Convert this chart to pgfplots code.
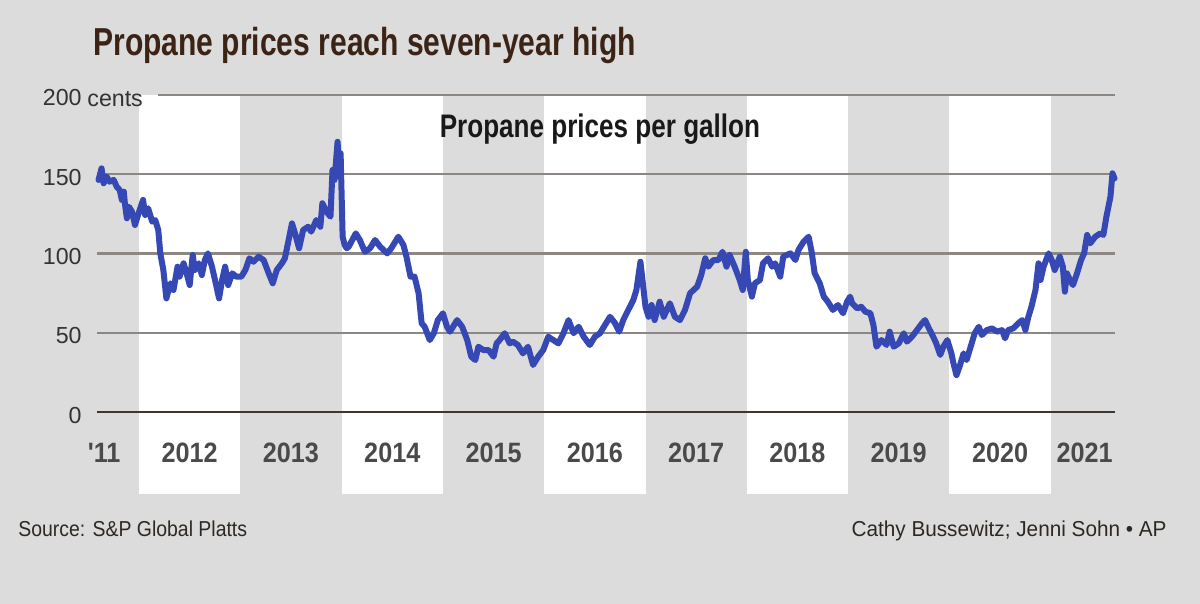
\documentclass[border=0pt]{standalone}
\usepackage{pgfplots}
\pgfplotsset{compat=1.18}
\usepackage{fontspec}
\setmainfont{Liberation Sans}
\newfontfamily\titlefont{Liberation Sans}[FakeStretch=0.77]
\newfontfamily\subfont{Liberation Sans}[FakeStretch=0.80]
\newfontfamily\yearfontfam{Liberation Sans}[FakeStretch=0.90]
\newfontfamily\srcfont{Liberation Sans}[FakeStretch=0.90]
\newfontfamily\credfont{Liberation Sans}[FakeStretch=0.96]
\definecolor{bgc}{HTML}{DCDCDC}
\definecolor{linec}{HTML}{3648B4}
\definecolor{gridc}{HTML}{8C8782}
\definecolor{zeroc}{HTML}{3E3731}
\definecolor{titlec}{HTML}{3B2416}
\definecolor{yearc}{HTML}{4A4A4A}
\definecolor{tickc}{HTML}{333333}
\definecolor{notec}{HTML}{2E2822}
\tikzset{yearlab/.style={anchor=base, inner sep=0pt, font=\yearfontfam\bfseries\fontsize{14}{16}\selectfont, text=yearc}}
\begin{document}
\begin{tikzpicture}
\fill[bgc] (0,0) rectangle (600pt,302pt);
\node[anchor=base west, inner sep=0pt, font=\titlefont\bfseries\fontsize{19.5}{22}\selectfont, text=titlec] at (46.5pt,274.3pt) {Propane prices reach seven-year high};
\node[anchor=base west, inner sep=0pt, font=\srcfont\fontsize{10.8}{12}\selectfont, text=notec] at (9pt,33.5pt) {Source: S\&P Global Platts};
\node[anchor=base east, inner sep=0pt, font=\credfont\fontsize{10.8}{12}\selectfont, text=notec] at (583.5pt,33.5pt) {Cathy Bussewitz; Jenni Sohn • AP};
\begin{axis}[
  at={(48.5pt,55pt)}, anchor=south west,
  scale only axis, width=509pt, height=199.5pt,
  xmin=2011.585, xmax=2021.635, ymin=-51.7, ymax=200,
  axis line style={draw=none},
  xtick=\empty,
  ytick={0,50,100,150,200},
  major tick length=0pt,
  yticklabel style={font=\fontsize{11.6}{13}\selectfont, text=tickc, inner sep=0pt, xshift=-7.5pt, yshift=-1.5pt},
  /pgf/number format/assume math mode=true,
  clip=false,
]
\fill[white] (axis cs:2012,-51.7) rectangle (axis cs:2013,200);
\fill[white] (axis cs:2014,-51.7) rectangle (axis cs:2015,200);
\fill[white] (axis cs:2016,-51.7) rectangle (axis cs:2017,200);
\fill[white] (axis cs:2018,-51.7) rectangle (axis cs:2019,200);
\fill[white] (axis cs:2020,-51.7) rectangle (axis cs:2021,200);
\draw[gridc, line width=1.1pt] (axis cs:2011.585,50) -- (axis cs:2021.635,50);
\draw[gridc, line width=1.1pt] (axis cs:2011.585,100) -- (axis cs:2021.635,100);
\draw[gridc, line width=1.1pt] (axis cs:2011.585,150) -- (axis cs:2021.635,150);
\draw[gridc, line width=1.1pt] (axis cs:2012.19,200) -- (axis cs:2021.635,200);
\draw[zeroc, line width=1.1pt] (axis cs:2011.585,0) -- (axis cs:2021.635,0);
\node[anchor=base west, inner sep=0pt, font=\fontsize{11.6}{13}\selectfont, text=tickc] at (axis cs:2011.585,200) [xshift=-5pt, yshift=-5.6pt] {cents};
\node[anchor=base, inner sep=0pt, font=\subfont\bfseries\fontsize{16.3}{18}\selectfont, text=black!90] at (axis cs:2016.55,172.9) {Propane prices per gallon};
\node[yearlab] at (axis cs:2011.655,-32.1) {'11};
\node[yearlab] at (axis cs:2012.5,-32.1) {2012};
\node[yearlab] at (axis cs:2013.5,-32.1) {2013};
\node[yearlab] at (axis cs:2014.5,-32.1) {2014};
\node[yearlab] at (axis cs:2015.5,-32.1) {2015};
\node[yearlab] at (axis cs:2016.5,-32.1) {2016};
\node[yearlab] at (axis cs:2017.5,-32.1) {2017};
\node[yearlab] at (axis cs:2018.5,-32.1) {2018};
\node[yearlab] at (axis cs:2019.5,-32.1) {2019};
\node[yearlab] at (axis cs:2020.5,-32.1) {2020};
\node[yearlab] at (axis cs:2021.336,-32.1) {2021};
\addplot[linec, line width=3pt, line join=round, line cap=round] coordinates {
(2011.60,146.4) (2011.63,153.7) (2011.65,144.3) (2011.68,148.5) (2011.71,145.3)
(2011.75,146.4) (2011.78,142.1) (2011.81,140) (2011.83,133.8) (2011.85,139)
(2011.86,131.7) (2011.88,122.2) (2011.90,129.5) (2011.93,126.4) (2011.96,118)
(2011.99,124.3) (2012.04,133.8) (2012.06,124.3) (2012.09,128.5) (2012.13,120.1)
(2012.16,121.1) (2012.19,114.8) (2012.21,100.1) (2012.24,89.6) (2012.27,71.7)
(2012.31,81.2) (2012.34,77) (2012.38,91.7) (2012.40,85.4) (2012.44,93.8)
(2012.47,87.5) (2012.50,80.1) (2012.53,99.1) (2012.55,89.6) (2012.59,93.8)
(2012.62,86.4) (2012.65,95.9) (2012.68,100.1) (2012.72,91.7) (2012.75,83.3)
(2012.79,71.7) (2012.82,83.3) (2012.85,91.7) (2012.88,80.1) (2012.92,87.5)
(2012.96,85.4) (2013.01,85.4) (2013.05,89.6) (2013.09,97) (2013.13,94.8)
(2013.18,98) (2013.23,95.9) (2013.28,87.5) (2013.32,81.2) (2013.36,89.6)
(2013.41,93.8) (2013.44,97) (2013.47,106.4) (2013.51,119) (2013.54,112.7)
(2013.58,103.3) (2013.62,114.8) (2013.67,116.9) (2013.70,113.8) (2013.75,121.1)
(2013.79,116.9) (2013.81,131.7) (2013.85,126.4) (2013.89,123.2) (2013.91,152.7)
(2013.93,146.4) (2013.96,170.5) (2013.98,148.5) (2013.99,163.2) (2014.01,110.6)
(2014.03,105.4) (2014.05,103.3) (2014.07,104.3) (2014.14,112.7) (2014.18,108.5)
(2014.23,101.1) (2014.28,103.3) (2014.33,108.5) (2014.38,104.3) (2014.45,100.1)
(2014.49,103.3) (2014.56,110.6) (2014.61,105.4) (2014.64,98) (2014.68,85.4)
(2014.72,85.4) (2014.76,74.9) (2014.79,56) (2014.82,53.8) (2014.87,45.4)
(2014.91,49.7) (2014.95,58) (2015.00,62.3) (2015.04,53.8) (2015.07,50.7)
(2015.14,58) (2015.19,53.8) (2015.24,45.4) (2015.28,34.9) (2015.32,32.8)
(2015.35,41.2) (2015.40,39.1) (2015.45,39.1) (2015.50,34.9) (2015.53,43.3)
(2015.56,45.4) (2015.61,49.7) (2015.66,43.3) (2015.69,44.4) (2015.74,42.3)
(2015.79,37) (2015.84,41.2) (2015.89,29.7) (2015.94,34.9) (2015.99,39.1)
(2016.04,47.5) (2016.09,45.4) (2016.14,43.3) (2016.19,49.7) (2016.24,58)
(2016.29,49.7) (2016.34,53.8) (2016.39,47.5) (2016.45,42.3) (2016.50,47.5)
(2016.55,49.7) (2016.60,54.9) (2016.65,60.1) (2016.70,56) (2016.74,50.7)
(2016.78,58) (2016.83,64.4) (2016.88,70.7) (2016.91,77) (2016.95,94.8)
(2016.97,83.3) (2017.00,66.4) (2017.03,60.1) (2017.06,67.5) (2017.09,58)
(2017.14,69.6) (2017.18,60.1) (2017.24,68.6) (2017.29,60.1) (2017.34,58)
(2017.39,64.4) (2017.44,74.9) (2017.51,79.1) (2017.55,86.4) (2017.59,97)
(2017.62,91.7) (2017.67,95.9) (2017.72,95.9) (2017.76,101.1) (2017.80,91.7)
(2017.83,99.1) (2017.88,91.7) (2017.93,83.3) (2017.96,77) (2017.99,101.1)
(2018.01,83.3) (2018.05,72.8) (2018.08,81.2) (2018.13,83.3) (2018.16,93.8)
(2018.21,97) (2018.25,91.7) (2018.28,93.8) (2018.33,85.4) (2018.36,98)
(2018.43,100.1) (2018.48,95.9) (2018.51,102.2) (2018.56,107.4) (2018.61,110.6)
(2018.64,101.1) (2018.67,87.5) (2018.72,81.2) (2018.76,72.8) (2018.80,69.6)
(2018.85,64.4) (2018.90,67.5) (2018.95,62.3) (2018.99,69.6) (2019.02,72.8)
(2019.04,68.6) (2019.09,65.4) (2019.13,66.4) (2019.17,63.3) (2019.22,62.3)
(2019.25,54.9) (2019.28,41.2) (2019.33,45.4) (2019.38,42.3) (2019.41,50.7)
(2019.45,41.2) (2019.50,43.3) (2019.55,49.7) (2019.58,44.4) (2019.63,47.5)
(2019.68,51.7) (2019.73,56) (2019.76,58) (2019.79,53.8) (2019.84,47.5)
(2019.87,43.3) (2019.91,36) (2019.94,41.2) (2019.98,45.4) (2020.02,37)
(2020.04,30.7) (2020.07,23.3) (2020.10,28.6) (2020.14,37) (2020.17,32.8)
(2020.21,41.2) (2020.25,49.7) (2020.29,53.8) (2020.32,48.6) (2020.37,51.7)
(2020.42,52.8) (2020.47,50.7) (2020.52,51.7) (2020.55,46.5) (2020.58,51.7)
(2020.63,52.8) (2020.68,56) (2020.72,58) (2020.75,51.7) (2020.78,60.1)
(2020.81,66.4) (2020.85,77) (2020.88,93.8) (2020.90,83.3) (2020.93,91.7)
(2020.98,100.1) (2021.01,95.9) (2021.04,89.6) (2021.09,98) (2021.12,91.7)
(2021.14,75.9) (2021.16,87.5) (2021.19,83.3) (2021.22,80.1) (2021.26,87.5)
(2021.30,95.9) (2021.33,100.1) (2021.36,111.7) (2021.39,106.4) (2021.44,110.6)
(2021.49,112.7) (2021.52,111.7) (2021.55,123.2) (2021.59,135.8) (2021.61,150.6)
(2021.63,147.4)
};
\end{axis}
\end{tikzpicture}
\end{document}
